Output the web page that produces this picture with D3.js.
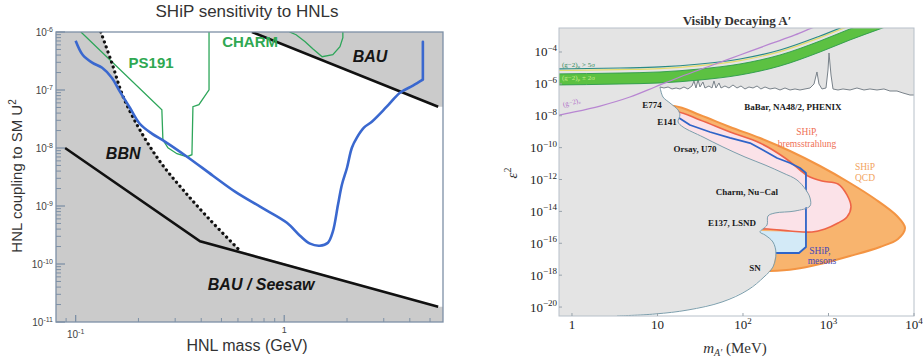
<!DOCTYPE html>
<html>
<head>
<meta charset="utf-8">
<script src="https://cdn.jsdelivr.net/npm/d3@7"></script>
<style>
  body { margin: 0; background: #fff; }
  svg { display: block; }
</style>
</head>
<body>
<svg id="chart" width="923" height="363"></svg>
<script>
// ---------- left panel data: HNL mass (GeV) vs U^2 ----------
const hnlMassDomain = [0.0805, 5.77];
const hnlU2Domain = [1e-11, 1e-6];
const hnlYTickExp = [-6, -7, -8, -9, -10, -11];

const shipHnl = [[0.100,7.08e-7],[0.108,4.06e-7],[0.120,2.96e-7],[0.134,2.42e-7],[0.149,1.63e-7],
  [0.163,9.35e-8],[0.182,4.95e-8],[0.203,2.62e-8],[0.232,1.77e-8],[0.268,1.29e-8],[0.342,7.08e-9],
  [0.455,3.33e-9],[0.581,1.77e-9],[0.766,9.73e-10],[1.03,5.15e-10],[1.19,3.08e-10],[1.33,2.24e-10],
  [1.48,2.07e-10],[1.62,2.33e-10],[1.71,3.61e-10],[1.81,1.05e-9],[1.89,2.33e-9],[2.00,4.57e-9],
  [2.11,1.01e-8],[2.23,1.51e-8],[2.41,2.24e-8],[2.63,2.84e-8],[3.10,5.15e-8],[3.59,8.97e-8],
  [4.14,1.19e-7],[4.62,1.51e-7],[4.62,6.81e-7]];
const ps191 = [[0.106,1e-6],[0.259,4.57e-8],[0.262,1.39e-8],[0.277,1.01e-8],[0.306,7.97e-9],[0.342,7.08e-9],
  [0.361,7.66e-9],[0.365,5.15e-8],[0.390,5.58e-8],[0.436,1.01e-7],[0.436,1e-6]];
const charm = [[1.06,1e-6],[1.14,8.98e-7],[1.26,6.8e-7],[1.37,5.15e-7],[1.52,3.75e-7],[1.71,4.06e-7],
  [1.85,5.58e-7],[1.91,7.97e-7],[1.91,1e-6]];
const bbnLine = [[0.132,1e-6],[0.149,2.96e-7],[0.169,7.66e-8],[0.203,2.07e-8],[0.254,5.81e-9],
  [0.327,1.91e-9],[0.440,5.81e-10],[0.614,1.69e-10]];
const seesawLine = [[0.089,1e-8],[0.395,2.47e-10],[5.47,1.84e-11]];
const bauLine = [[0.70,1e-6],[5.47,5.15e-8]];
const hnlLabels = [
  { text: 'PS191', m: 0.230, u: 2.96e-7 },
  { text: 'CHARM', m: 0.686, u: 6.8e-7 },
  { text: 'BAU', m: 2.58, u: 3.75e-7 },
  { text: 'BBN', m: 0.169, u: 8.0e-9 },
  { text: 'BAU / Seesaw', m: 0.775, u: 4.4e-11 }
];

// ---------- right panel data: A' mass (MeV) vs eps^2 ----------
const apMassDomain = [0.705, 1e4];
const apEpsDomain = [2.74e-21, 3.2e-3];
const apYTickExp = [-4, -6, -8, -10, -12, -14, -16, -18, -20];
const apXTickExp = [0, 1, 2, 3, 4];

const babarLine = [[10.7,6.37e-7],[11.9,5.52e-7],[13.3,6.37e-7],[14.8,4.78e-7],[16.5,5.52e-7],[18.3,4.78e-7],
  [20.4,6.37e-7],[22.7,4.78e-7],[25.3,7.36e-7],[26.7,1.52e-6],[28.2,5.52e-7],[29.8,1.75e-6],[31.4,6.37e-7],
  [34.0,1.31e-6],[35.9,5.52e-7],[40.0,7.36e-7],[43.4,5.52e-7],[45.8,1.52e-6],[48.3,5.52e-7],[52.4,1.14e-6],
  [55.3,5.52e-7],[61.5,7.36e-7],[68.6,5.52e-7],[76.4,8.51e-7],[85.1,5.52e-7],[94.8,7.36e-7],[105.5,4.78e-7],
  [117.5,6.37e-7],[131,5.52e-7],[146,7.36e-7],[162,4.78e-7],[181,6.37e-7],[207,4.78e-7],[237,5.52e-7],
  [271,4.13e-7],[310,5.52e-7],[355,4.13e-7],[406,4.78e-7],[464,4.13e-7],[531,4.78e-7],[608,5.52e-7],
  [677,9.82e-7],[733,5.56e-6],[774,9.82e-7],[839,4.78e-7],[935,5.52e-7],[987,7.43e-6],[1014,8.65e-5],
  [1070,3.6e-6],[1129,4.78e-7],[1292,4.13e-7],[1479,4.78e-7],[1784,4.13e-7],[2153,5.52e-7],[2600,4.13e-7],
  [3055,4.78e-7],[3689,4.13e-7],[4455,4.78e-7],[5236,3.57e-7],[6324,3.57e-7],[7430,2.68e-7],[8975,2.0e-7],
  [10000,2.0e-7]];
const beamDumpEdge = [[10.7,6.37e-7],[11.6,1.50e-7],[14.0,6.31e-8],[17.4,2.30e-8],[18.3,1.12e-8],[17.4,4.06e-9],
  [19.9,1.97e-9],[34.0,4.66e-10],[58.3,1.10e-10],[105.5,2.59e-11],[181,8.15e-12],[294,2.56e-12],[428,9.33e-13],
  [545,2.20e-13],[608,6.93e-14],[608,2.18e-14],[406,1.06e-14],[237,7.94e-15],[196,5.14e-15],[191,1.40e-15],
  [158,5.10e-16],[181,3.31e-16],[224,1.20e-16],[243,2.45e-17],[224,3.25e-18],[176,7.67e-19],[114,1.17e-19],
  [56.8,2.07e-20],[22.7,6.52e-21],[9.35,3.66e-21],[3.36,2.74e-21]];
const gm2Mass = [0.6, 3.64, 10.7, 31.4, 92.2, 271, 796, 1784, 4000, 9000];
const gm2Lo = [8.5e-7, 9.8e-7, 1.14e-6, 1.75e-6, 3.6e-6, 1.32e-5, 1.0e-4, 5.7e-4, 2.8e-3, 1.4e-2];
const gm2Hi = [4.2e-6, 4.8e-6, 5.6e-6, 8.6e-6, 1.77e-5, 6.5e-5, 4.9e-4, 2.8e-3, 1.4e-2, 7e-2];
const gm2FiveSigma = [[0.6,8.6e-6],[3.64,9.9e-6],[10.7,1.15e-5],[31.4,1.77e-5],[92.2,3.64e-5],[271,1.33e-4],
  [796,1.01e-3],[1784,5.7e-3]];
const gm2e = [[0.6,8.9e-9],[0.724,1.12e-8],[2.13,4.09e-8],[4.76,1.5e-7],[9.35,6.37e-7],[18.3,2.7e-6],
  [41.1,1.32e-5],[92.2,6.48e-5],[207,3.18e-4],[406,1.17e-3],[641,3.2e-3],[1042,8.8e-3]];
const shipQcd = [[6.24,2.3e-8],[15.6,4.09e-8],[31.4,1.12e-8],[70.5,1.97e-9],[158,4.03e-10],[355,6.15e-11],
  [796,7.05e-12],[1784,6.05e-13],[3499,6.0e-14],[6324,5.14e-15],[7850,9.1e-16],[6500,1.86e-16],[4000,5.85e-17],
  [1784,1.59e-17],[796,5.01e-18],[406,2.43e-18],[207,1.82e-18],[92.2,1.82e-18]];
const shipBrems = [[10.7,5.42e-9],[16.5,1.72e-8],[31.4,5.42e-9],[70.5,9.57e-10],[158,1.95e-10],[310,2.24e-11],
  [464,3.95e-12],[575,1.66e-12],[839,8.07e-13],[1292,5.24e-13],[1645,1.07e-13],[1832,1.89e-14],[1645,4.45e-15],
  [1292,1.87e-15],[910,7.87e-16],[641,5.10e-16],[355,5.89e-16],[196,7.87e-16],[92.2,7.87e-16]];
const shipMesonsFill = [[158,5.89e-16],[545,5.10e-16],[545,5.85e-17],[452,2.45e-17],[207,2.45e-17],[158,7.8e-17]];
const shipMesonsLine = [[16.5,9.66e-9],[24.0,2.63e-9],[41.1,9.57e-10],[70.5,4.03e-10],[121,1.95e-10],
  [171,7.11e-11],[250,2.24e-11],[355,1.09e-11],[464,5.28e-12],[545,2.56e-12],[545,5.85e-17],[452,2.45e-17],
  [207,2.45e-17],[138,2.45e-17]];
const apLabels = [
  { text: 'E774', m: 8.62, e: 4.73e-8 },
  { text: 'E141', m: 12.9, e: 4.06e-9 },
  { text: 'BaBar, NA48/2, PHENIX', m: 384, e: 3.55e-8 },
  { text: 'Orsay, U70', m: 27.5, e: 8.2e-11 },
  { text: 'Charm, Nu\u2212Cal', m: 111, e: 1.65e-13 },
  { text: 'E137, LSND', m: 74.3, e: 1.87e-15 },
  { text: 'SN', m: 138, e: 2.81e-18 }
];
const bremsLabel = [{ text: 'SHiP,', m: 561, e: 9.57e-10 }, { text: 'bremsstrahlung', m: 561, e: 1.69e-10 }];
const qcdLabel = [{ text: 'SHiP', m: 2673, e: 6.1e-12 }, { text: 'QCD', m: 2673, e: 1.24e-12 }];
const mesonLabel = [{ text: 'SHiP,', m: 796, e: 3.28e-17 }, { text: 'mesons', m: 839, e: 7.7e-18 }];

const SANS = 'Liberation Sans, Arial, sans-serif';
const SERIF = 'Liberation Serif, Times New Roman, serif';
const svg = d3.select('#chart');
const defs = svg.append('defs');

// ================= LEFT PANEL =================
const xL = d3.scaleLog().domain(hnlMassDomain).range([56, 443]);
const yL = d3.scaleLog().domain(hnlU2Domain).range([322, 32]);
const lineL = d3.line().x(d => xL(d[0])).y(d => yL(d[1]));
const smoothL = d3.line().x(d => xL(d[0])).y(d => yL(d[1])).curve(d3.curveCatmullRom.alpha(0.5));

defs.append('clipPath').attr('id', 'clipL').append('rect')
  .attr('x', xL.range()[0]).attr('y', yL.range()[1])
  .attr('width', xL.range()[1] - xL.range()[0]).attr('height', yL.range()[0] - yL.range()[1]);

const left = svg.append('g');
const plotL = left.append('g').attr('clip-path', 'url(#clipL)');

plotL.append('rect')
  .attr('x', xL.range()[0]).attr('y', yL.range()[1])
  .attr('width', xL.range()[1] - xL.range()[0]).attr('height', yL.range()[0] - yL.range()[1])
  .attr('fill', '#cbcbcb');

// allowed (white) region: right of BBN, above seesaw, below BAU
const bbnEnd = bbnLine[bbnLine.length - 1];
const allowedL = [
  ...bbnLine,
  ...seesawLine.filter(d => d[0] > bbnEnd[0]),
  [hnlMassDomain[1], seesawLine[seesawLine.length - 1][1]],
  [hnlMassDomain[1], bauLine[bauLine.length - 1][1]],
  ...bauLine.slice().reverse()
];
plotL.append('path').attr('d', lineL(allowedL) + 'Z').attr('fill', '#fff');

plotL.append('path').attr('d', lineL(ps191)).attr('fill', 'none').attr('stroke', '#2ea65a').attr('stroke-width', 1.3);
plotL.append('path').attr('d', lineL(charm)).attr('fill', 'none').attr('stroke', '#2ea65a').attr('stroke-width', 1.3);
plotL.append('path').attr('d', lineL(seesawLine)).attr('fill', 'none').attr('stroke', '#111').attr('stroke-width', 2.6);
plotL.append('path').attr('d', lineL(bauLine)).attr('fill', 'none').attr('stroke', '#111').attr('stroke-width', 2.6);
plotL.append('path').attr('d', smoothL(bbnLine)).attr('fill', 'none').attr('stroke', '#111')
  .attr('stroke-width', 3.2).attr('stroke-dasharray', '0.1,5.2').attr('stroke-linecap', 'round');
// SHiP curve: smooth body, straight vertical closing edge
plotL.append('path').attr('d', smoothL(shipHnl.slice(0, -1))).attr('fill', 'none').attr('stroke', '#3a68cf')
  .attr('stroke-width', 2.6).attr('stroke-linejoin', 'round');
plotL.append('path').attr('d', lineL(shipHnl.slice(-2))).attr('fill', 'none').attr('stroke', '#3a68cf')
  .attr('stroke-width', 2.6).attr('stroke-linecap', 'round');

// annotations
const labelStyle = {
  'PS191': { fill: '#2fa852', italic: false, size: 15 },
  'CHARM': { fill: '#2fa852', italic: false, size: 15 },
  'BAU': { fill: '#151515', italic: true, size: 16 },
  'BBN': { fill: '#151515', italic: true, size: 16 },
  'BAU / Seesaw': { fill: '#151515', italic: true, size: 16 }
};
left.selectAll('text.hlab').data(hnlLabels).join('text')
  .attr('class', 'hlab')
  .attr('x', d => xL(d.m)).attr('y', d => yL(d.u))
  .attr('text-anchor', 'middle').attr('dominant-baseline', 'central')
  .attr('font-family', SANS).attr('font-weight', 'bold')
  .attr('font-size', d => labelStyle[d.text].size)
  .attr('font-style', d => labelStyle[d.text].italic ? 'italic' : 'normal')
  .attr('fill', d => labelStyle[d.text].fill)
  .text(d => d.text);

// frame and ticks
const axisColL = '#7d90a6';
left.append('rect')
  .attr('x', xL.range()[0]).attr('y', yL.range()[1])
  .attr('width', xL.range()[1] - xL.range()[0]).attr('height', yL.range()[0] - yL.range()[1])
  .attr('fill', 'none').attr('stroke', axisColL).attr('stroke-width', 1.3);

const yMinorL = [];
hnlYTickExp.slice(1).forEach(e => { for (let k = 2; k <= 9; k++) yMinorL.push(k * Math.pow(10, e)); });
left.append('g').selectAll('line').data(yMinorL).join('line')
  .attr('x1', xL.range()[0]).attr('x2', xL.range()[0] + 5)
  .attr('y1', d => yL(d)).attr('y2', d => yL(d))
  .attr('stroke', axisColL).attr('stroke-width', 1);
left.append('g').selectAll('line').data(hnlYTickExp).join('line')
  .attr('x1', xL.range()[0]).attr('x2', xL.range()[0] + 9)
  .attr('y1', d => yL(Math.pow(10, d))).attr('y2', d => yL(Math.pow(10, d)))
  .attr('stroke', axisColL).attr('stroke-width', 1.3);

const xMinorL = xL.ticks(20).filter(v => Math.abs(Math.log10(v) - Math.round(Math.log10(v))) > 1e-6);
left.append('g').selectAll('line').data(xMinorL).join('line')
  .attr('x1', d => xL(d)).attr('x2', d => xL(d))
  .attr('y1', yL.range()[0]).attr('y2', yL.range()[0] - 4)
  .attr('stroke', axisColL).attr('stroke-width', 1);
left.append('g').selectAll('line').data([0.1, 1]).join('line')
  .attr('x1', d => xL(d)).attr('x2', d => xL(d))
  .attr('y1', yL.range()[0]).attr('y2', yL.range()[0] - 7)
  .attr('stroke', axisColL).attr('stroke-width', 1.3);

const yLabL = left.append('g').selectAll('text').data(hnlYTickExp).join('text')
  .attr('x', xL.range()[0] - 3).attr('y', d => yL(Math.pow(10, d)) + 4)
  .attr('text-anchor', 'end').attr('font-family', SANS).attr('font-size', 10).attr('fill', '#444');
yLabL.append('tspan').text('10');
yLabL.append('tspan').attr('dy', -4).attr('font-size', 7).text(d => String(d));

const x01 = left.append('text').attr('x', xL(0.1)).attr('y', 338)
  .attr('text-anchor', 'middle').attr('font-family', SANS).attr('font-size', 10).attr('fill', '#444');
x01.append('tspan').text('10');
x01.append('tspan').attr('dy', -4).attr('font-size', 7).text('-1');
left.append('text').attr('x', xL(1)).attr('y', 333)
  .attr('text-anchor', 'middle').attr('font-family', SANS).attr('font-size', 9).attr('fill', '#444').text('1');

left.append('text').attr('x', 247).attr('y', 17).attr('text-anchor', 'middle')
  .attr('font-family', SANS).attr('font-size', 17).attr('fill', '#333').text('SHiP sensitivity to HNLs');
left.append('text').attr('x', 247).attr('y', 351).attr('text-anchor', 'middle')
  .attr('font-family', SANS).attr('font-size', 16).attr('fill', '#333').text('HNL mass (GeV)');
const yTitleL = left.append('text').attr('transform', 'translate(22,176) rotate(-90)')
  .attr('text-anchor', 'middle').attr('font-family', SANS).attr('font-size', 15).attr('fill', '#333');
yTitleL.append('tspan').text('HNL coupling to SM U');
yTitleL.append('tspan').attr('dy', -6).attr('font-size', 10).text('2');

// ================= RIGHT PANEL =================
const xR = d3.scaleLog().domain(apMassDomain).range([559, 914]);
const yR = d3.scaleLog().domain(apEpsDomain).range([316, 28]);
const lineR = d3.line().x(d => xR(d[0])).y(d => yR(d[1]));
const smoothR = d3.line().x(d => xR(d[0])).y(d => yR(d[1])).curve(d3.curveCatmullRom.alpha(0.5));

defs.append('clipPath').attr('id', 'clipR').append('rect')
  .attr('x', xR.range()[0]).attr('y', yR.range()[1])
  .attr('width', xR.range()[1] - xR.range()[0]).attr('height', yR.range()[0] - yR.range()[1]);

const right = svg.append('g');
const plotR = right.append('g').attr('clip-path', 'url(#clipR)');

plotR.append('rect')
  .attr('x', xR.range()[0]).attr('y', yR.range()[1])
  .attr('width', xR.range()[1] - xR.range()[0]).attr('height', yR.range()[0] - yR.range()[1])
  .attr('fill', '#fff');

plotR.append('path').attr('d', smoothR(shipQcd) + 'Z').attr('fill', '#f8b46e')
  .attr('stroke', '#f39443').attr('stroke-width', 2);
plotR.append('path').attr('d', lineR(shipMesonsFill) + 'Z').attr('fill', '#d3eaf7');
plotR.append('path').attr('d', smoothR(shipBrems) + 'Z').attr('fill', '#fbe2e8')
  .attr('stroke', '#ee6448').attr('stroke-width', 1.6);
plotR.append('path').attr('d', lineR(shipMesonsLine)).attr('fill', 'none')
  .attr('stroke', '#2f64c8').attr('stroke-width', 1.8).attr('stroke-linejoin', 'round');

// excluded region: everything above BaBar and left of the beam-dump / SN envelope
const excludedR = [
  [apMassDomain[0], apEpsDomain[1]],
  [apMassDomain[1], apEpsDomain[1]],
  [apMassDomain[1], babarLine[babarLine.length - 1][1]],
  ...babarLine.slice().reverse(),
  ...beamDumpEdge.slice(1),
  [apMassDomain[0], apEpsDomain[0]]
];
plotR.append('path').attr('d', lineR(excludedR) + 'Z').attr('fill', '#e4e4e4');
plotR.append('path').attr('d', smoothR(beamDumpEdge)).attr('fill', 'none')
  .attr('stroke', '#7c9eac').attr('stroke-width', 1);
plotR.append('path').attr('d', lineR(babarLine)).attr('fill', 'none')
  .attr('stroke', '#79828a').attr('stroke-width', 1);

// (g-2) curves
const gm2Area = d3.area().x((d, i) => xR(gm2Mass[i])).y0((d, i) => yR(gm2Lo[i])).y1((d, i) => yR(gm2Hi[i]))
  .curve(d3.curveMonotoneX);
plotR.append('path').attr('d', gm2Area(gm2Mass)).attr('fill', '#5cc142')
  .attr('stroke', '#2b9a4a').attr('stroke-width', 0.9);
const monoR = d3.line().x(d => xR(d[0])).y(d => yR(d[1])).curve(d3.curveMonotoneX);
plotR.append('path').attr('d', monoR(gm2FiveSigma)).attr('fill', 'none')
  .attr('stroke', '#e4dc6c').attr('stroke-width', 1.2).attr('transform', 'translate(0,1.6)');
plotR.append('path').attr('d', monoR(gm2FiveSigma)).attr('fill', 'none')
  .attr('stroke', '#2a8a86').attr('stroke-width', 1.2);
plotR.append('path').attr('d', monoR(gm2e)).attr('fill', 'none')
  .attr('stroke', '#b886d2').attr('stroke-width', 1.3);

// frame and ticks
right.append('rect')
  .attr('x', xR.range()[0]).attr('y', yR.range()[1])
  .attr('width', xR.range()[1] - xR.range()[0]).attr('height', yR.range()[0] - yR.range()[1])
  .attr('fill', 'none').attr('stroke', '#b7c0c9').attr('stroke-width', 1);
right.append('g').selectAll('line').data(apYTickExp).join('line')
  .attr('x1', xR.range()[0]).attr('x2', xR.range()[0] + 3)
  .attr('y1', d => yR(Math.pow(10, d))).attr('y2', d => yR(Math.pow(10, d)))
  .attr('stroke', '#9aa4ad');
right.append('g').selectAll('line').data(apXTickExp).join('line')
  .attr('x1', d => xR(Math.pow(10, d))).attr('x2', d => xR(Math.pow(10, d)))
  .attr('y1', yR.range()[0]).attr('y2', yR.range()[0] - 3)
  .attr('stroke', '#9aa4ad');

const yLabR = right.append('g').selectAll('text').data(apYTickExp).join('text')
  .attr('x', xR.range()[0] - 2).attr('y', d => yR(Math.pow(10, d)) + 4.5)
  .attr('text-anchor', 'end').attr('font-family', SERIF).attr('font-size', 13).attr('fill', '#222');
yLabR.append('tspan').text('10');
yLabR.append('tspan').attr('dy', -5.5).attr('font-size', 9).text(d => '\u2212' + Math.abs(d));

const xLabR = right.append('g').selectAll('text').data(apXTickExp).join('text')
  .attr('x', d => xR(Math.pow(10, d))).attr('y', 329)
  .attr('text-anchor', 'middle').attr('font-family', SERIF).attr('font-size', 13).attr('fill', '#222');
xLabR.append('tspan').text(d => d === 0 ? '1' : '10');
xLabR.filter(d => d > 1).append('tspan').attr('dy', -5.5).attr('font-size', 9).text(d => String(d));

right.append('text').attr('x', 737).attr('y', 25).attr('text-anchor', 'middle')
  .attr('font-family', SERIF).attr('font-weight', 'bold').attr('font-size', 13).attr('fill', '#333')
  .text('Visibly Decaying A\u2032');
const xTitleR = right.append('text').attr('x', 735).attr('y', 353).attr('text-anchor', 'middle')
  .attr('font-family', SERIF).attr('font-size', 15).attr('fill', '#333');
xTitleR.append('tspan').attr('font-style', 'italic').text('m');
xTitleR.append('tspan').attr('font-style', 'italic').attr('font-size', 10).attr('dy', 3).text('A\u2032');
xTitleR.append('tspan').attr('dy', -3).text(' (MeV)');
const yTitleR = right.append('text').attr('transform', 'translate(517,173) rotate(-90)')
  .attr('text-anchor', 'middle').attr('font-family', SERIF).attr('font-size', 15).attr('fill', '#333');
yTitleR.append('tspan').attr('font-style', 'italic').text('\u03b5');
yTitleR.append('tspan').attr('dy', -6).attr('font-size', 10).text('2');

// region annotations
right.append('g').selectAll('text').data(apLabels).join('text')
  .attr('x', d => xR(d.m)).attr('y', d => yR(d.e))
  .attr('text-anchor', 'middle').attr('dominant-baseline', 'central')
  .attr('font-family', SERIF).attr('font-weight', 'bold').attr('font-size', 9).attr('fill', '#1a1a1a')
  .text(d => d.text);
const colouredLabels = (data, colour) => right.append('g').selectAll('text').data(data).join('text')
  .attr('x', d => xR(d.m)).attr('y', d => yR(d.e))
  .attr('text-anchor', 'middle').attr('dominant-baseline', 'central')
  .attr('font-family', SERIF).attr('font-size', 9.5).attr('fill', colour)
  .text(d => d.text);
colouredLabels(bremsLabel, '#ef6f55');
colouredLabels(qcdLabel, '#f2a45e');
colouredLabels(mesonLabel, '#4646b8');

const g5 = right.append('text').attr('x', xR(0.764)).attr('y', yR(1.53e-5))
  .attr('dominant-baseline', 'central').attr('font-family', SERIF).attr('font-size', 7).attr('fill', '#2f8a5a');
g5.append('tspan').text('(g\u22122)');
g5.append('tspan').attr('font-size', 5).attr('dy', 1.5).text('\u03bc');
g5.append('tspan').attr('dy', -1.5).text(' > 5\u03c3');
const g2 = right.append('text').attr('x', xR(0.764)).attr('y', yR(2.34e-6))
  .attr('dominant-baseline', 'central').attr('font-family', SERIF).attr('font-size', 7).attr('fill', '#c9ec8a');
g2.append('tspan').text('(g\u22122)');
g2.append('tspan').attr('font-size', 5).attr('dy', 1.5).text('\u03bc');
g2.append('tspan').attr('dy', -1.5).text(' \u00b1 2\u03c3');
const ge = right.append('text')
  .attr('transform', `translate(${xR(0.785)},${yR(4.73e-8)}) rotate(-15)`)
  .attr('dominant-baseline', 'central').attr('font-family', SERIF).attr('font-size', 7).attr('fill', '#b070c8');
ge.append('tspan').text('(g\u22122)');
ge.append('tspan').attr('font-size', 5).attr('dy', 1.5).text('e');
</script>
</body>
</html>
